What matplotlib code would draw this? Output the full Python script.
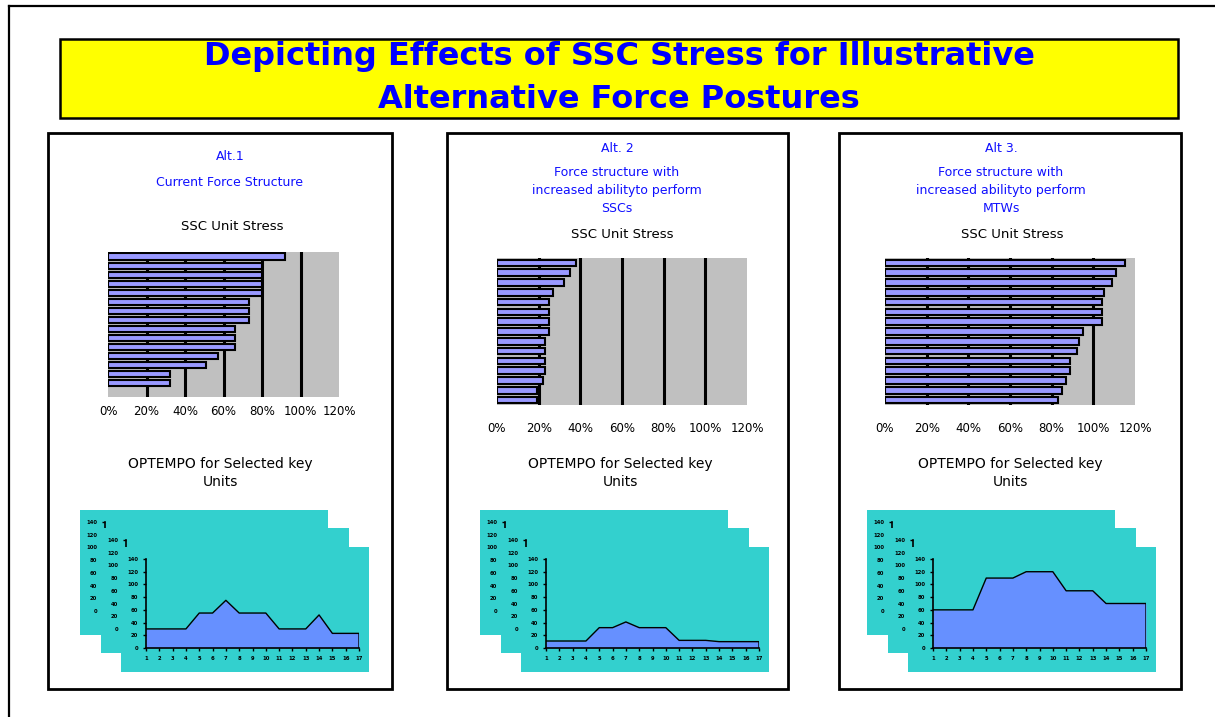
import numpy as np
import matplotlib.pyplot as plt
from matplotlib.patches import Rectangle

W, H = 1215, 717

# SSC unit stress for each unit, in percent (top bar first)
stress_alt1 = [92, 80, 80, 80, 80, 73, 73, 73, 66, 66, 66, 57, 51, 32, 32]
stress_alt2 = [38, 35, 32, 27, 25, 25, 25, 25, 23, 23, 23, 23, 22, 19, 19]
stress_alt3 = [115, 111, 109, 105, 104, 104, 104, 95, 93, 92, 89, 89, 87, 85, 83]
pct_ticks = [0, 20, 40, 60, 80, 100, 120]
pct_labels = ["0%", "20%", "40%", "60%", "80%", "100%", "120%"]

# OPTEMPO for selected key units over periods 1..17
periods = list(range(1, 18))
optempo_alt1 = [30, 30, 30, 30, 55, 55, 75, 55, 55, 55, 30, 30, 30, 52, 23, 23, 23]
optempo_alt2 = [11, 11, 11, 11, 32, 32, 41, 32, 32, 32, 12, 12, 12, 10, 10, 10, 10]
optempo_alt3 = [60, 60, 60, 60, 110, 110, 110, 120, 120, 120, 90, 90, 90, 70, 70, 70, 70]
optempo_ticks = [0, 20, 40, 60, 80, 100, 120, 140]

title_lines = ["Depicting Effects of SSC Stress for Illustrative",
               "Alternative Force Postures"]
alt_names = ["Alt.1", "Alt. 2", "Alt 3."]
alt_desc = [["Current Force Structure"],
            ["Force structure with", "increased abilityto perform", "SSCs"],
            ["Force structure with", "increased abilityto perform", "MTWs"]]

BLUE = "#1010FF"
BAR = "#9999FF"
GRAY = "#C0C0C0"
TEAL = "#33D0CE"
AREA = "#6690FF"

fig = plt.figure(figsize=(W / 100, H / 100), dpi=100)


def px_axes(x0, y0, x1, y1):
    return fig.add_axes([x0 / W, 1 - y1 / H, (x1 - x0) / W, (y1 - y0) / H])


def no_spines(ax):
    for s in ax.spines.values():
        s.set_visible(False)


# background canvas in pixel coordinates
canvas = px_axes(0, 0, W, H)
canvas.set_xlim(0, W)
canvas.set_ylim(H, 0)
canvas.axis("off")

canvas.plot([9, 9], [6, H], color="k", lw=1.6)
canvas.plot([9, W], [6, 6], color="k", lw=1.6)

canvas.add_patch(Rectangle((60, 39), 1118, 79, fc="#FFFF00", ec="k", lw=1.8))
canvas.text(619, 57, title_lines[0], ha="center", va="center", color="#0000FF",
            fontsize=23, fontweight="bold")
canvas.text(619, 100, title_lines[1], ha="center", va="center", color="#0000FF",
            fontsize=23, fontweight="bold")

panels = [(48, 392), (447, 788), (839, 1181)]
for x0, x1 in panels:
    canvas.add_patch(Rectangle((x0, 133), x1 - x0, 556, fc="white", ec="k", lw=2))

# panel headings
canvas.text(230, 157, alt_names[0], ha="center", va="center", color=BLUE, fontsize=9)
canvas.text(230, 182, alt_desc[0][0], ha="center", va="center", color=BLUE, fontsize=9)
for cx, name, desc in [(617, alt_names[1], alt_desc[1]), (1001, alt_names[2], alt_desc[2])]:
    canvas.text(cx, 148, name, ha="center", va="center", color=BLUE, fontsize=9)
    for i, line in enumerate(desc):
        canvas.text(cx, 173 + i * 17.5, line, ha="center", va="center", color=BLUE, fontsize=9)

for cx, cy in [(232, 227), (622, 234), (1012, 234)]:
    canvas.text(cx, cy, "SSC Unit Stress", ha="center", va="center", fontsize=9.5)
for cx in [220, 620, 1010]:
    canvas.text(cx, 464, "OPTEMPO for Selected key", ha="center", va="center", fontsize=10)
    canvas.text(cx, 482, "Units", ha="center", va="center", fontsize=10)


def stress_chart(box, values, bottom_gap, pad):
    ax = px_axes(*box)
    ax.set_facecolor(GRAY)
    n = len(values)
    for g in pct_ticks[1:-1]:
        ax.axvline(g, color="k", lw=2.2, zorder=1)
    ax.barh(np.arange(n), values, height=0.68, color=BAR, edgecolor="k",
            linewidth=1.5, zorder=2)
    ax.set_xlim(0, 120)
    ax.set_ylim(n - 0.5 + bottom_gap, -0.5)
    ax.set_xticks(pct_ticks, pct_labels)
    ax.set_yticks([])
    ax.tick_params(axis="x", length=0, pad=pad, labelsize=8.5)
    no_spines(ax)


stress_chart((108, 252, 339, 397), stress_alt1, 1.0, 6)
stress_chart((497, 258, 747, 405), stress_alt2, 0.0, 12)
stress_chart((885, 258, 1135, 405), stress_alt3, 0.0, 12)


def optempo_stack(fx, fy, values):
    # three cascaded copies of the chart, back to front
    layers = [(-41, -37), (-20, -19), (0, 0)]
    for k, (dx, dy) in enumerate(layers):
        front = k == len(layers) - 1
        rx, ry = fx + dx, fy + dy
        layer = px_axes(rx, ry, rx + 248, ry + 125)
        layer.set_facecolor(TEAL)
        layer.set_xticks([])
        layer.set_yticks([])
        no_spines(layer)

        ax = px_axes(rx + 25, ry + 12, rx + 238, ry + 101)
        ax.patch.set_visible(False)
        ax.fill_between(periods, values, color=AREA, lw=0)
        ax.plot(periods + [17], values + [0], color="k", lw=1)
        ax.set_xlim(1, 17)
        ax.set_ylim(0, 140)
        ax.set_xticks(periods)
        ax.set_yticks(optempo_ticks)
        ax.spines["top"].set_visible(False)
        ax.spines["right"].set_visible(False)
        ax.spines["left"].set_linewidth(1.2)
        ax.spines["bottom"].set_linewidth(1.2)
        ax.tick_params(length=2.2, width=1, pad=3.5, labelsize=3.8)
        # the lower part of the rear copies is covered by the next sheet
        ax.tick_params(axis="x", labelbottom=front)
        for lab in ax.get_xticklabels() + ax.get_yticklabels():
            lab.set_fontweight("bold")


optempo_stack(121, 547, optempo_alt1)
optempo_stack(521, 547, optempo_alt2)
optempo_stack(908, 547, optempo_alt3)

fig.savefig("out.png", dpi=100)
